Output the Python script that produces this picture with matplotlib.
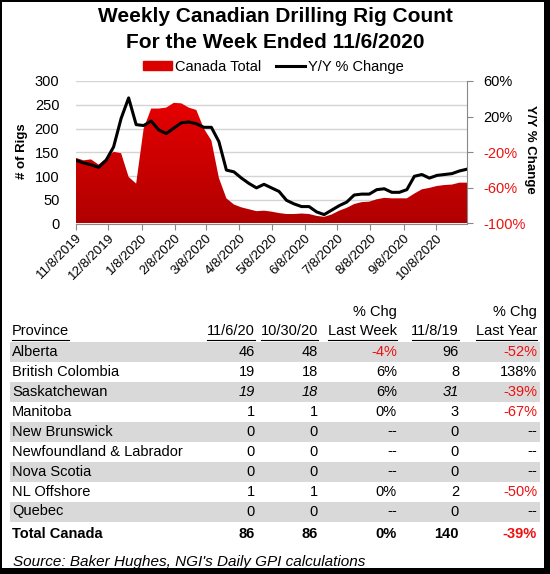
import datetime as dt

import matplotlib
matplotlib.use('Agg')
import matplotlib.pyplot as plt
import matplotlib.dates as mdates
import numpy as np
from matplotlib.colors import LinearSegmentedColormap
from matplotlib.lines import Line2D
from matplotlib.patches import Patch, Rectangle

plt.rcParams['font.family'] = ['Liberation Sans', 'DejaVu Sans']

# weekly Canadian rig count, 11/8/2019 .. 11/6/2020
start = dt.date(2019, 11, 8)
weeks = [start + dt.timedelta(days=7 * i) for i in range(53)]

rigs = [138, 133, 135, 124, 137, 151, 148, 98, 84, 200,
        242, 242, 244, 254, 253, 244, 239, 200, 175, 96,
        53, 40, 34, 30, 26, 27, 25, 22, 20, 20,
        21, 20, 16, 14, 19, 27, 33, 41, 45, 46,
        51, 54, 53, 53, 53, 63, 72, 75, 79, 81,
        82, 86, 86]

yoy = [-29, -32, -34, -37, -29, -14, 18, 41, 11, 10,
       15, 5, 1, 7, 13, 14, 12, 8, 8, -8,
       -40, -42, -49, -55, -60, -56, -60, -64, -74, -78,
       -81, -81, -87, -90, -85, -80, -76, -68, -67, -67,
       -62, -61, -65, -65, -62, -47, -45, -49, -46, -45,
       -44, -41, -39]

tick_dates = [dt.date(2019, 11, 8), dt.date(2019, 12, 8)] + \
             [dt.date(2020, m, 8) for m in range(1, 11)]

# table
provinces = ['Alberta', 'British Colombia', 'Saskatchewan', 'Manitoba',
             'New Brunswick', 'Newfoundland & Labrador', 'Nova Scotia',
             'NL Offshore', 'Quebec']
now = [46, 19, 19, 1, 0, 0, 0, 1, 0]
last_week = [48, 18, 18, 1, 0, 0, 0, 1, 0]
chg_week = ['-4%', '6%', '6%', '0%', '--', '--', '--', '0%', '--']
last_year = [96, 8, 31, 3, 0, 0, 0, 2, 0]
chg_year = ['-52%', '138%', '-39%', '-67%', '--', '--', '--', '-50%', '--']
total = ['86', '86', '0%', '140', '-39%']

W, H = 550, 574
RED = '#EE1111'


def fx(x):
    return x / W


def fy(y):
    return 1 - y / H


fig = plt.figure(figsize=(W / 100, H / 100), dpi=100)
fig.patch.set_facecolor('white')

ax = fig.add_axes([fx(76), fy(223.5), fx(467) - fx(76), fy(81) - fy(223.5)])
x = mdates.date2num(weeks)

ax.set_ylim(0, 300)
ax.set_xlim(x[0], x[-1])
ax.set_yticks(range(0, 301, 50))
ax.grid(axis='y', color='#D4D4D4', lw=1)
ax.set_axisbelow(True)

# gradient red area
fill = ax.fill_between(x, rigs, 0, color='none', lw=0)
cmap = LinearSegmentedColormap.from_list('reds', ['#B00000', '#F00000'])
grad = np.linspace(0, 1, 256).reshape(-1, 1)
im = ax.imshow(grad, extent=[x[0], x[-1], 0, 300], origin='lower',
               aspect='auto', cmap=cmap, zorder=2)
im.set_clip_path(fill.get_paths()[0], transform=ax.transData)
ax.set_xlim(x[0], x[-1])
ax.set_ylim(0, 300)

ax.set_xticks(mdates.date2num(tick_dates))
ax.set_xticklabels([f'{d.month}/{d.day}/{d.year}' for d in tick_dates],
                   rotation=45, ha='right', rotation_mode='anchor', fontsize=9.5)
ax.tick_params(axis='x', length=4, color='#888888', pad=2)
ax.tick_params(axis='y', length=0, pad=12, labelsize=10.5)
for s in ['left', 'top', 'right']:
    ax.spines[s].set_visible(False)
ax.spines['bottom'].set_color('#888888')

ax2 = ax.twinx()
ax2.plot(x, yoy, color='black', lw=2.2, zorder=3)
ax2.set_ylim(-100, 60)
ax2.set_yticks([60, 20, -20, -60, -100])
ax2.set_yticklabels(['60%', '20%', '-20%', '-60%', '-100%'], fontsize=10.5)
for lab, v in zip(ax2.get_yticklabels(), [60, 20, -20, -60, -100]):
    lab.set_color('black' if v > 0 else RED)
ax2.tick_params(axis='y', length=4, color='#888888', pad=8)
for s in ['left', 'top', 'bottom']:
    ax2.spines[s].set_visible(False)
ax2.spines['right'].set_color('#888888')

fig.text(fx(22), fy(151), '# of Rigs', rotation=90, ha='center', va='center',
         fontsize=9.5, fontweight='bold')
fig.text(fx(530), fy(149), 'Y/Y % Change', rotation=270, ha='center', va='center',
         fontsize=9.5, fontweight='bold')

fig.text(0.5, fy(16), 'Weekly Canadian Drilling Rig Count', ha='center', va='center',
         fontsize=15, fontweight='bold')
fig.text(0.5, fy(42.5), 'For the Week Ended 11/6/2020', ha='center', va='center',
         fontsize=15, fontweight='bold')

handles = [Patch(color='#DD0000'), Line2D([], [], color='black', lw=2.2)]
fig.legend(handles, ['Canada Total', 'Y/Y % Change'], loc='center',
           bbox_to_anchor=(fx(273), fy(67)), ncol=2, frameon=False, fontsize=10.5,
           handlelength=2.0, handleheight=0.6, handletextpad=0.2, columnspacing=1.0,
           borderpad=0)

# table
col_right = [255, 318, 397, 459, 537]
fs = 10.5
fig.text(fx(397), fy(312), '% Chg', ha='right', va='center', fontsize=fs)
fig.text(fx(537), fy(312), '% Chg', ha='right', va='center', fontsize=fs)
heads = ['11/6/20', '10/30/20', 'Last Week', '11/8/19', 'Last Year']
underline = dict(ha='right', va='center', fontsize=fs)
fig.text(fx(12), fy(331), 'Province', ha='left', va='center', fontsize=fs)
fig.add_artist(Line2D([fx(12), fx(69)], [fy(340), fy(340)], color='black', lw=0.8))
head_left = [207, 261, 328, 412, 476]
for h, r, l in zip(heads, col_right, head_left):
    fig.text(fx(r), fy(331), h, **underline)
    fig.add_artist(Line2D([fx(l), fx(r)], [fy(340), fy(340)], color='black', lw=0.8))

row0 = 351.5
for i, p in enumerate(provinces):
    yc = row0 + 20 * i
    if i % 2 == 0:
        fig.add_artist(Rectangle((fx(9.5), fy(yc + 10)), fx(539.5) - fx(9.5), 20 / H,
                                 transform=fig.transFigure, color='#D9D9D9', lw=0, zorder=0))
    style = 'italic' if p == 'Saskatchewan' else 'normal'
    fig.text(fx(12), fy(yc), p, ha='left', va='center', fontsize=fs)
    vals = [str(now[i]), str(last_week[i]), chg_week[i], str(last_year[i]), chg_year[i]]
    for j, (v, r) in enumerate(zip(vals, col_right)):
        c = RED if v.startswith('-') and v != '--' else 'black'
        st = style if j in (0, 1, 3) else 'normal'
        fig.text(fx(r), fy(yc), v, ha='right', va='center', fontsize=fs, color=c, style=st)

yt = 534
fig.text(fx(12), fy(yt), 'Total Canada', ha='left', va='center', fontsize=fs, fontweight='bold')
for v, r in zip(total, col_right):
    c = RED if v.startswith('-') else 'black'
    fig.text(fx(r), fy(yt), v, ha='right', va='center', fontsize=fs, fontweight='bold', color=c)

fig.text(fx(13), fy(562), "Source: Baker Hughes, NGI's Daily GPI calculations", ha='left',
         va='center', fontsize=11, style='italic')

# black frame with heavier right/bottom edge
for (x0, y0, w, h) in [(0, 0, 2, H), (0, 0, W, 2), (W - 6, 0, 6, H), (0, H - 6, W, 6)]:
    fig.add_artist(Rectangle((fx(x0), fy(y0 + h)), w / W, h / H, transform=fig.transFigure,
                             color='black', lw=0))

fig.savefig('out.png', dpi=100)
